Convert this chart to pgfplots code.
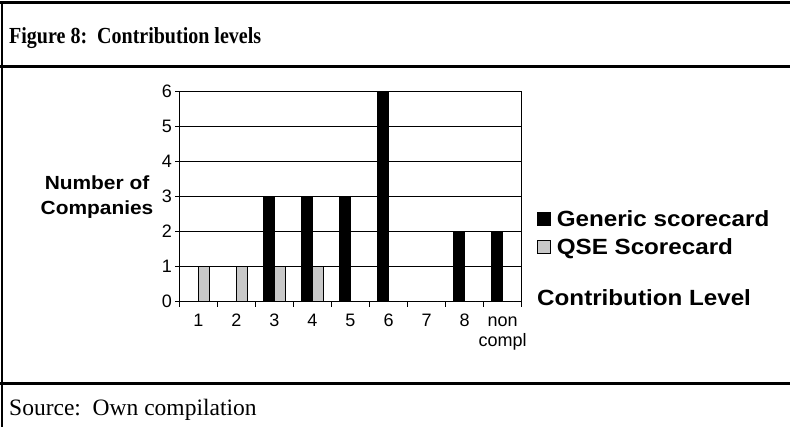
\documentclass[border=0pt]{standalone}
\usepackage{fontspec}
\setmainfont{Liberation Serif}
\newfontfamily\titlefont[FakeStretch=0.87]{Liberation Serif}
\newfontfamily\arial{Liberation Sans}
\newfontfamily\arialw[FakeStretch=1.1]{Liberation Sans}
\usepackage{pgfplots}
\pgfplotsset{compat=1.18}
\definecolor{qse}{RGB}{200,200,200}
\begin{document}
\begin{tikzpicture}[x=1pt,y=1pt]
\path[use as bounding box] (0,0) rectangle (790,427);
% frame
\draw[line width=2.5pt] (0,424.5) -- (790,424.5);
\draw[line width=2.5pt] (0,360.5) -- (790,360.5);
\draw[line width=2.5pt] (0,43.5) -- (790,43.5);
\draw[line width=2.5pt] (2,0) -- (2,425.75);
\node[anchor=base west, inner sep=0pt] at (9,383) {\titlefont\fontsize{23}{27}\selectfont\bfseries Figure 8:\ \ Contribution levels};
\node[anchor=base west, inner sep=0pt] at (9,11) {\fontsize{23.5}{28}\selectfont Source:\ \ Own compilation};
\begin{axis}[
  at={(179.3pt,125.3pt)}, anchor=south west, scale only axis,
  width=342.4pt, height=210pt,
  xmin=0.5, xmax=9.5, ymin=0, ymax=6,
  ybar=0pt, bar width=11pt,
  xtick={1,...,9},
  xticklabels={\strut 1,\strut 2,\strut 3,\strut 4,\strut 5,\strut 6,\strut 7,\strut 8,{\strut non\\compl}},
  major x tick style={draw=none},
  minor xtick={0.5,1.5,...,9.5},
  tick pos=left,
  tick align=outside, minor tick length=5pt, major tick length=4pt,
  ytick={0,...,6},
  ymajorgrids, grid style={black, line width=0.6pt},
  axis line style={line width=0.8pt},
  tick style={black, line width=0.6pt},
  /pgf/number format/assume math mode=true,
  xticklabel style={font=\arial\fontsize{18}{20}\selectfont, align=center, anchor=north, yshift=-3pt},
  yticklabel style={font=\arial\fontsize{18}{20}\selectfont},
  legend style={at={(1.0447,0.437)}, anchor=north west, draw=none, fill=none,
    inner sep=0pt, row sep=10.5pt, column sep=6pt,
    font=\arialw\bfseries\fontsize{22}{26}\selectfont,
    nodes={inner sep=0pt}},
  legend cell align=left,
  legend image code/.code={\draw[#1,line width=0.6pt] (0pt,-6.5pt) rectangle (13pt,6.5pt);},
]
\addplot[fill=black, draw=black] coordinates {(1,0) (2,0) (3,3) (4,3) (5,3) (6,6) (7,0) (8,2) (9,2)};
\addplot[fill=qse, draw=black] coordinates {(1,1) (2,1) (3,1) (4,1) (5,0) (6,0) (7,0) (8,0) (9,0)};
\legend{Generic scorecard, QSE Scorecard}
\end{axis}
\node[anchor=west, inner sep=0pt, font=\arialw\bfseries\fontsize{22}{26}\selectfont] at (537,129) {Contribution Level};
\node[align=center, inner sep=0pt, font=\arialw\bfseries\fontsize{19}{25}\selectfont] at (97,229.5) {Number of\\Companies};
\end{tikzpicture}
\end{document}
